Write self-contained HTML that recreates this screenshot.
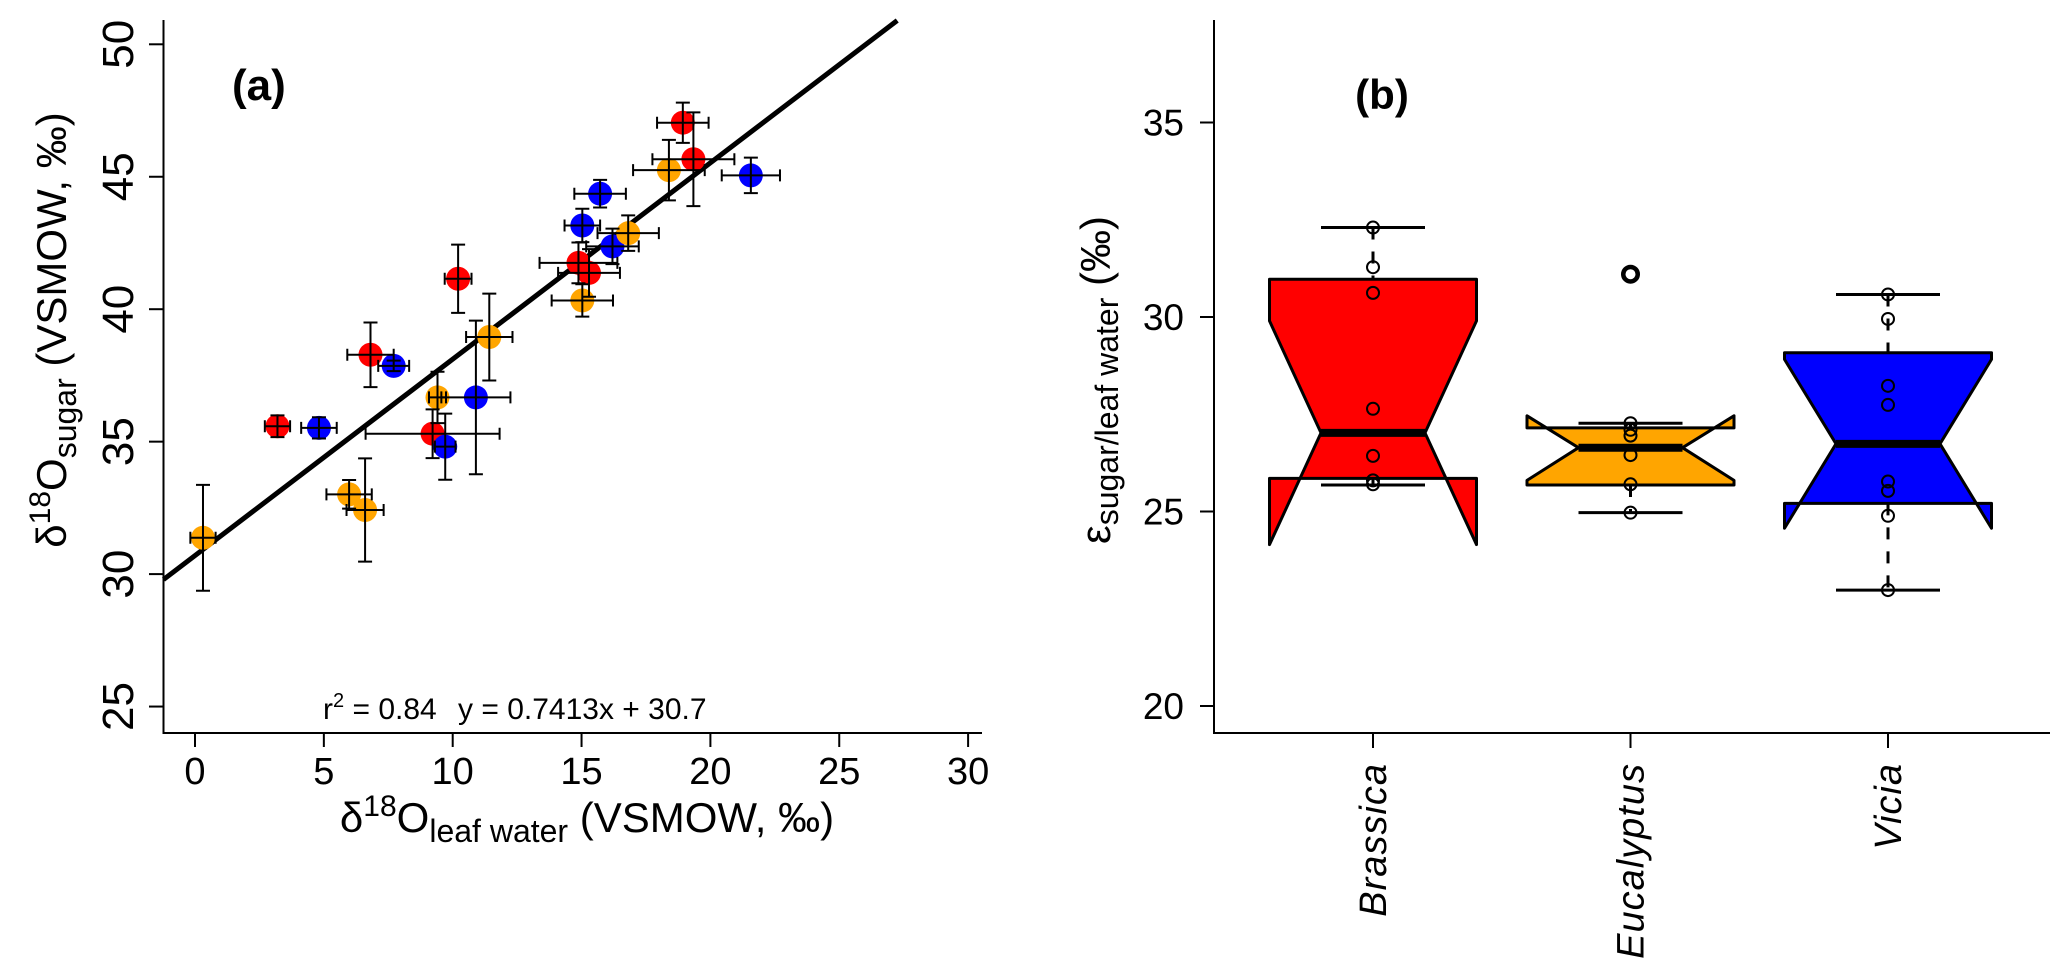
<!DOCTYPE html>
<html><head><meta charset="utf-8"><style>
html,body{margin:0;padding:0;background:#fff}
svg{display:block}
text{font-family:"Liberation Sans Narrow","Liberation Sans",sans-serif;fill:#000}
</style></head><body>
<svg id="fig" width="2067" height="979" viewBox="0 0 2067 979" xmlns="http://www.w3.org/2000/svg">
<g id="pa"></g>
<g id="pb"></g>
</svg>
<script>
// Panel (a) data
const ptX = [0.31,3.2,4.81,6.81,7.71,5.98,6.6,9.22,9.71,9.41,10.9,10.21,11.42,15.03,14.88,15.29,15.03,15.72,16.2,16.81,18.39,18.93,19.34,21.57];
const ptY = [31.37,35.58,35.52,38.28,37.86,33.01,32.42,35.3,34.81,36.67,36.67,41.15,38.95,40.33,41.75,41.37,43.16,44.36,42.37,42.87,45.25,47.04,45.66,45.05];
const ptXErr = [0.49,0.49,0.69,0.9,0.6,0.88,0.72,2.6,0.4,0.33,1.34,0.52,0.9,1.19,1.51,1.2,0.69,1.0,1.02,1.19,1.39,1.0,1.59,1.13];
const ptYErr = [2.0,0.41,0.4,1.22,0.2,0.54,1.95,0.92,1.25,0.97,2.9,1.29,1.64,0.61,0.77,0.9,0.63,0.52,0.67,0.67,1.14,0.76,1.77,0.67];
const ptSpecies = ["E","B","V","B","V","E","E","B","V","E","V","B","E","E","B","B","V","V","V","E","E","B","B","V"];
const xTicksA = [0,5,10,15,20,25,30];
const yTicksA = [25,30,35,40,45,50];
const slope = 0.7413, intercept = 30.7;
// Panel (b) data
const species = ["Brassica","Eucalyptus","Vicia"];
const q1 = [25.85,25.68,25.21];
const med = [27.02,26.64,26.74];
const q3 = [30.97,27.15,29.08];
const notchLo = [24.15,25.8,24.57];
const notchHi = [29.9,27.46,28.91];
const whLo = [25.68,24.97,22.98];
const whHi = [32.3,27.27,30.58];
const outlierVals = [[],[31.1],[]];
const pointsB = [[32.3,31.28,30.62,27.64,26.43,25.8,25.7],[31.1,27.27,27.1,26.95,26.45,25.7,24.97],[30.58,29.95,28.23,27.74,25.77,25.53,24.89,22.98]];
const yTicksB = [20,25,30,35];

const NS="http://www.w3.org/2000/svg";
function mk(parent,tag,attrs,txt){const e=document.createElementNS(NS,tag);for(const k in attrs)e.setAttribute(k,attrs[k]);if(txt!==undefined)e.textContent=txt;parent.appendChild(e);return e;}
const colors={B:"#ff0000",E:"#ffa500",V:"#0000ff"};

// ---------- Panel a ----------
const pa=document.getElementById('pa');
const xA=v=>195+v*25.77;
const yA=v=>44.3+(50-v)*26.49;
let ax=mk(pa,'path',{d:`M163.5 20 V733 H982`,stroke:'#000','stroke-width':2,fill:'none'});


xTicksA.forEach(t=>{
  let tk=mk(pa,'line',{x1:xA(t),x2:xA(t),y1:733,y2:747,stroke:'#000','stroke-width':2});
  
  
  let tl=mk(pa,'text',{x:xA(t),y:784,'text-anchor':'middle','font-size':38},String(t));
  
  
});
yTicksA.forEach(t=>{
  let tk=mk(pa,'line',{x1:149,x2:163.5,y1:yA(t),y2:yA(t),stroke:'#000','stroke-width':2});
  
  
  let tl=mk(pa,'text',{x:0,y:0,'text-anchor':'middle','font-size':44,transform:`translate(133,${yA(t)}) rotate(-90)`},String(t));
  
  
});
const xl0=(163.5-195)/25.77, ytop=50.9, xl1=(ytop-intercept)/slope;
let rl=mk(pa,'line',{x1:xA(xl0),y1:yA(slope*xl0+intercept),x2:xA(xl1),y2:yA(slope*xl1+intercept),stroke:'#000','stroke-width':5});


ptX.forEach((x,i)=>{
  let c=mk(pa,'circle',{cx:xA(x),cy:yA(ptY[i]),r:12,fill:colors[ptSpecies[i]]});
  
  
});
ptX.forEach((x,i)=>{
  const cx=xA(x),cy=yA(ptY[i]),x0=xA(x-ptXErr[i]),x1=xA(x+ptXErr[i]),y0=yA(ptY[i]-ptYErr[i]),y1=yA(ptY[i]+ptYErr[i]);
  let e=mk(pa,'path',{d:`M${x0} ${cy}H${x1}M${x0} ${cy-6}V${cy+6}M${x1} ${cy-6}V${cy+6}M${cx} ${y0}V${y1}M${cx-7} ${y0}H${cx+7}M${cx-7} ${y1}H${cx+7}`,stroke:'#000','stroke-width':2,fill:'none'});
  
  
});
</script>
<script>
(function(){
const pa=document.getElementById('pa');
let t=mk(pa,'text',{x:232,y:100,'font-size':44,'font-weight':'bold','font-family':'Liberation Sans, sans-serif'},'(a)');


t=mk(pa,'text',{x:323,y:719,'font-size':30});
t.innerHTML='r<tspan dy="-12" font-size="20">2</tspan><tspan dy="12"> = 0.84</tspan>';


t=mk(pa,'text',{x:458,y:719,'font-size':30},'y = 0.7413x + 30.7');


t=mk(pa,'text',{x:587,y:832,'text-anchor':'middle','font-size':42});
t.innerHTML='δ<tspan dy="-16" font-size="30">18</tspan><tspan dy="16">O</tspan><tspan dy="10" font-size="32">leaf water</tspan><tspan dy="-10"> (VSMOW, ‰)</tspan>';


t=mk(pa,'text',{x:0,y:0,'text-anchor':'middle','font-size':42,transform:'translate(66,330) rotate(-90)'});
t.innerHTML='δ<tspan dy="-16" font-size="30">18</tspan><tspan dy="16">O</tspan><tspan dy="10" font-size="32">sugar</tspan><tspan dy="-10"> (VSMOW, ‰)</tspan>';



// ---------- Panel b ----------
const pb=document.getElementById('pb');
const yB=v=>317-(v-30)*38.9;
const cxB=i=>1373+i*257.5;
let ax=mk(pb,'path',{d:'M1214 20 V733 H2050',stroke:'#000','stroke-width':2,fill:'none'});


yTicksB.forEach(v=>{
  let tk=mk(pb,'line',{x1:1200,x2:1214,y1:yB(v),y2:yB(v),stroke:'#000','stroke-width':2});
  
  
  let tl=mk(pb,'text',{x:1184,y:yB(v)+13,'text-anchor':'end','font-size':37},String(v));
  
  
});
const bcol=["#ff0000","#ffa500","#0000ff"];
species.forEach((s,i)=>{
  const c=cxB(i),w=103.5,nw=52;
  let tk=mk(pb,'line',{x1:c,x2:c,y1:733,y2:748,stroke:'#000','stroke-width':2});
  
  
  let tl=mk(pb,'text',{x:0,y:0,'text-anchor':'end','font-size':38,'font-style':'italic','letter-spacing':1,'font-family':'Liberation Sans, sans-serif',transform:`translate(${c+13},763) rotate(-90)`},s);
  
  
  let wh=mk(pb,'path',{d:`M${c} ${yB(whHi[i])}V${yB(q3[i])}M${c} ${yB(q1[i])}V${yB(whLo[i])}`,stroke:'#000','stroke-width':3,'stroke-dasharray':'12 12',fill:'none'});
  
  
  let cap=mk(pb,'path',{d:`M${c-nw} ${yB(whHi[i])}H${c+nw}M${c-nw} ${yB(whLo[i])}H${c+nw}`,stroke:'#000','stroke-width':3});
  
  
  const pts=[[c-w,q1[i]],[c-w,notchLo[i]],[c-nw,med[i]],[c-w,notchHi[i]],[c-w,q3[i]],[c+w,q3[i]],[c+w,notchHi[i]],[c+nw,med[i]],[c+w,notchLo[i]],[c+w,q1[i]]].map(p=>p[0]+','+yB(p[1])).join(' ');
  let bx=mk(pb,'polygon',{points:pts,fill:bcol[i],stroke:'#000','stroke-width':3,'stroke-linejoin':'round'});
  
  
  let md=mk(pb,'line',{x1:c-nw,x2:c+nw,y1:yB(med[i]),y2:yB(med[i]),stroke:'#000','stroke-width':8});
  
  
  pointsB[i].forEach(v=>{
    let p=mk(pb,'circle',{cx:c,cy:yB(v),r:6,fill:'none',stroke:'#000','stroke-width':2});
    
    
  });
  outlierVals[i].forEach(v=>{
    let o=mk(pb,'circle',{cx:c,cy:yB(v),r:8,fill:'none',stroke:'#000','stroke-width':3});
    
    
  });
});
t=mk(pb,'text',{x:1382,y:109,'text-anchor':'middle','font-size':42,'font-weight':'bold','font-family':'Liberation Sans, sans-serif'},'(b)');


t=mk(pb,'text',{x:0,y:0,'text-anchor':'middle','font-size':42,'font-family':'Liberation Sans, sans-serif',transform:'translate(1110,380) rotate(-90)'});
t.innerHTML='ε<tspan dy="8" font-size="32">sugar/leaf water</tspan><tspan dy="-8"> (‰)</tspan>';


})();
</script>
</body></html>
